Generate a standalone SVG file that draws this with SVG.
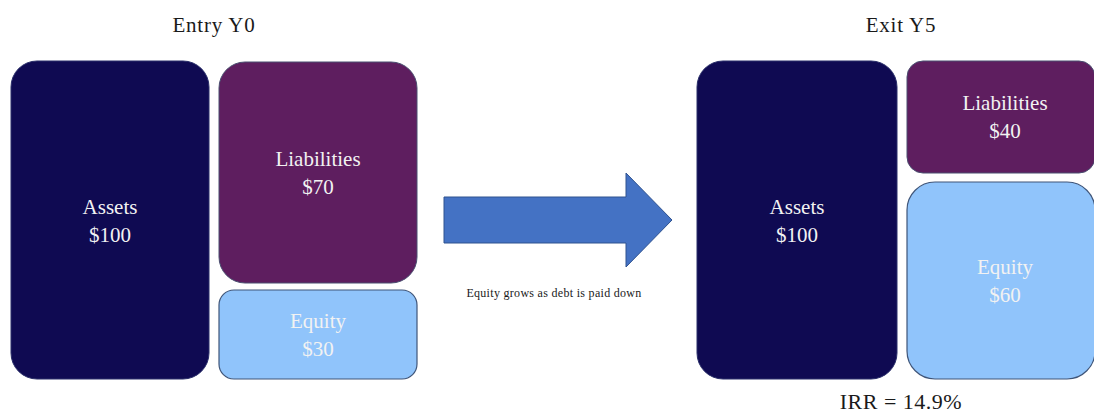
<svg xmlns="http://www.w3.org/2000/svg" width="1094" height="414" viewBox="0 0 1094 414">
<style>
text { font-family: "Liberation Serif", "Times New Roman", serif; text-anchor: middle; }
.title { font-size: 21px; letter-spacing: 0.8px; fill: #1a1a1a; }
.lbl { font-size: 21px; fill: #f2f2f2; }
.assets { fill: #0f0a52; stroke: #2a2f6a; stroke-width: 1; }
.liab { fill: #5e1e5f; stroke: #4a4f70; stroke-width: 1; }
.eq { fill: #90c4fb; stroke: #3f5579; stroke-width: 1.2; }
.note { font-size: 12px; letter-spacing: 0.3px; fill: #1a1a1a; }
</style>
<rect width="1094" height="414" fill="#ffffff"/>
<text class="title" x="214" y="32">Entry Y0</text>
<text class="title" x="901" y="32">Exit Y5</text>
<g id="entry-assets">
<rect class="assets" x="11" y="61" width="198" height="318" rx="26"/>
<text class="lbl" x="110" y="214">Assets</text>
<text class="lbl" x="110" y="242">$100</text>
</g>
<g id="entry-liabilities">
<rect class="liab" x="219" y="62" width="198" height="221" rx="26"/>
<text class="lbl" x="318" y="166">Liabilities</text>
<text class="lbl" x="318" y="194">$70</text>
</g>
<g id="entry-equity">
<rect class="eq" x="219" y="290" width="198" height="89" rx="15"/>
<text class="lbl" x="318" y="328">Equity</text>
<text class="lbl" x="318" y="356">$30</text>
</g>
<g id="connectors">
<polygon points="444,197 626,197 626,173 672,220 626,267 626,243 444,243" fill="#4472c4" stroke="#2f528f" stroke-width="1"/>
<text class="note" x="554" y="297">Equity grows as debt is paid down</text>
</g>
<g id="exit-assets">
<rect class="assets" x="697" y="61" width="200" height="318" rx="26"/>
<text class="lbl" x="797" y="214">Assets</text>
<text class="lbl" x="797" y="242">$100</text>
</g>
<g id="exit-liabilities">
<rect class="liab" x="907" y="61" width="188" height="112" rx="16"/>
<text class="lbl" x="1005" y="110">Liabilities</text>
<text class="lbl" x="1005" y="138">$40</text>
</g>
<g id="exit-equity">
<rect class="eq" x="907" y="182" width="188" height="197" rx="28"/>
<text class="lbl" x="1005" y="274">Equity</text>
<text class="lbl" x="1005" y="302">$60</text>
</g>
<text class="title" x="901" y="409" style="font-size:22px;letter-spacing:0.5px">IRR = 14.9%</text>
</svg>
